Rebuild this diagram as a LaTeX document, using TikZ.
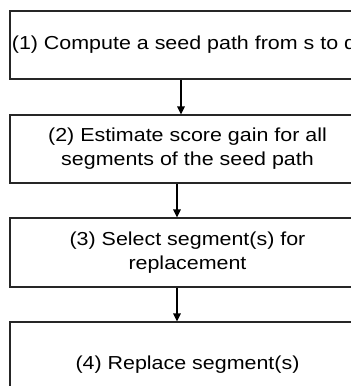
\documentclass[tikz,border=0pt]{standalone}
\usepackage{fontspec}
\setmainfont{Liberation Sans}[FakeStretch=1.14]
\usetikzlibrary{arrows.meta}
\begin{document}
\begin{tikzpicture}[x=1pt,y=1pt,
  stepbox/.style={draw=black!85, line width=1.1pt, rectangle, inner sep=0pt,
    align=center, font=\fontsize{18.8}{24}\selectfont},
  arr/.style={draw=black, line width=1.6pt, -{Triangle[length=8pt,width=7.5pt]}}]
\useasboundingbox (0,0) rectangle (351,-386);
\clip (0,0) rectangle (351,-386);
\node[stepbox, minimum width=348, minimum height=68] (b1) at (184,-45) {(1) Compute a seed path from s to d};
\node[stepbox, minimum width=355, minimum height=68] (b2) at (187.5,-149) {(2) Estimate score gain for all\\segments of the seed path};
\node[stepbox, minimum width=355, minimum height=69] (b3) at (187.5,-252.5) {(3) Select segment(s) for\\replacement};
\node[stepbox, minimum width=355, minimum height=86] (b4) at (187.5,-365) {(4) Replace segment(s)};
\draw[arr] (b1.south -| 181,0) -- (b2.north -| 181,0);
\draw[arr] (b2.south -| 177,0) -- (b3.north -| 177,0);
\draw[arr] (b3.south -| 177,0) -- (b4.north -| 177,0);
\end{tikzpicture}
\end{document}
